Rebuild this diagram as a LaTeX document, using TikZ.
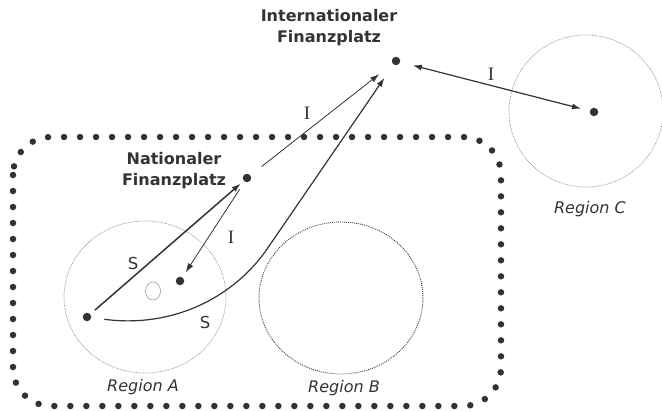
\documentclass[tikz,border=0pt]{standalone}
\usepackage{fontspec}
\setmainfont{DejaVu Sans}
\newfontfamily\labelserif{Liberation Serif}
\usetikzlibrary{arrows.meta}
\definecolor{ink}{HTML}{333333}
\definecolor{pale}{HTML}{9A9A9A}
\begin{document}
\begin{tikzpicture}[x=1pt,y=-1pt,
  every node/.style={text=ink},
  place/.style={circle,fill=ink,inner sep=0pt,minimum size=8.5pt},
  title/.style={font=\bfseries\fontsize{16}{21}\selectfont,align=center},
  region/.style={font=\itshape\fontsize{16}{19}\selectfont},
  flowS/.style={font=\fontsize{16.5}{19}\selectfont},
  flowI/.style={font=\labelserif\fontsize{19}{22}\selectfont},
  arr/.style={draw=ink,-{Latex[length=9pt,width=6pt]}},
  borderdots/.style={draw=ink,line width=6.5pt,line cap=round,dash pattern=on 0pt off 16pt},
  palering/.style={draw=pale,line width=0.7pt,dash pattern=on 0.7pt off 0.7pt},
  darkring/.style={draw=ink,line width=0.9pt,dash pattern=on 0.9pt off 1.1pt}]
\useasboundingbox (0,0) rectangle (662,412);

% national area border
\draw[borderdots,rounded corners=38pt] (13,137) rectangle (501,406);

% regions
\draw[palering] (145,297) ellipse [x radius=81pt,y radius=76pt];
\draw[darkring] (341,298) ellipse [x radius=82pt,y radius=76pt];
\draw[palering] (586,111) ellipse [x radius=77pt,y radius=76pt];
\draw[pale,line width=0.6pt] (153,291) ellipse [x radius=7.5pt,y radius=9pt];

% places
\node[place] (int) at (396,61) {};
\node[place] (nat) at (247,178) {};
\node[place] (adot) at (87,317) {};
\node[place] (inner) at (180,281) {};
\node[place] (cdot) at (594,112) {};

% texts
\node[title] (inttxt) at (329,28) {Internationaler\\Finanzplatz};
\node[title] (nattxt) at (174,171) {Nationaler\\Finanzplatz};
\node[region] (ra) at (143,387) {Region A};
\node[region] (rb) at (344,388) {Region B};
\node[region] (rc) at (590,209) {Region C};

% flows
\draw[arr,line width=1.5pt,shorten <=6pt,shorten >=4pt] (adot) -- (nat);
\draw[arr,line width=0.8pt,shorten <=9pt,shorten >=6pt] (nat) -- (inner);
\draw[arr,line width=0.8pt,shorten <=14pt,shorten >=17pt] (nat) -- (int);
\draw[draw=ink,line width=1.2pt,{Latex[length=9pt,width=6pt]}-{Latex[length=9pt,width=6pt]},shorten <=13pt,shorten >=9pt] (int) -- (cdot);
\draw[arr,line width=1.2pt,shorten <=13pt,shorten >=16pt] (adot) .. controls (170,328) and (230,300) .. (265,252) -- (int);

% flow labels
\node[flowS] (s1) at (133,263) {S};
\node[flowS] (s2) at (205,322) {S};
\node[flowI] (i1) at (231,237) {I};
\node[flowI] (i2) at (307,113) {I};
\node[flowI] (i3) at (491,74) {I};
\end{tikzpicture}
\end{document}
